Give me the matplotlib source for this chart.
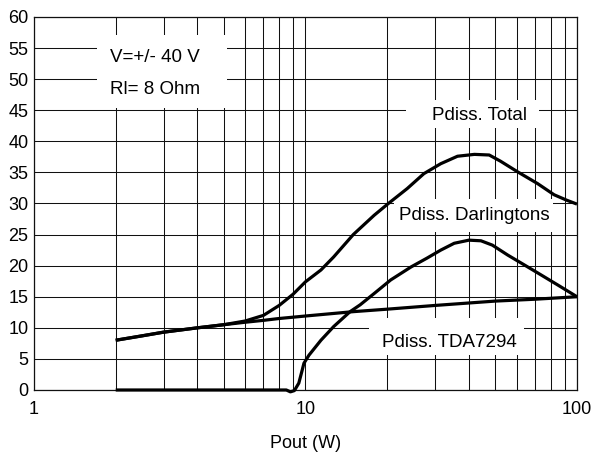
import matplotlib
matplotlib.use("Agg")
import matplotlib.pyplot as plt
from matplotlib.patches import Rectangle
from matplotlib.ticker import FixedLocator, NullFormatter

plt.rcParams['font.family'] = ['Liberation Sans', 'DejaVu Sans']

# ---- data ----
tda_x = [2, 2.5, 3, 4, 5, 6, 7, 8, 10, 15, 20, 30, 50, 70, 100]
tda_y = [8.0, 8.7, 9.3, 10.0, 10.5, 10.9, 11.2, 11.5, 11.9, 12.6, 13.0, 13.6, 14.3, 14.6, 15.0]

total_x = [2, 3, 4, 5, 6, 7, 8, 9, 10, 11.4, 12.7, 15, 17.9, 20.2, 23.7, 27.3,
           31.5, 36.3, 41.9, 47.5, 52.3, 60.4, 71.6, 82.4, 92, 100]
total_y = [8.0, 9.3, 10.0, 10.5, 11.1, 12.0, 13.6, 15.4, 17.4, 19.3, 21.4, 25.0, 28.1,
           30.0, 32.4, 34.8, 36.4, 37.6, 37.9, 37.8, 36.8, 35.1, 33.2, 31.4, 30.5, 29.9]

darl_x = [2, 8.5, 8.8, 9.1, 9.45, 9.7, 9.87, 10.3, 11.4, 12.7, 14.6, 15.9, 18, 20.6,
          24.5, 28, 31.5, 35.3, 40, 44.3, 48.8, 55.6, 64.1, 73.8, 84.9, 100]
darl_y = [0, 0, -0.3, -0.1, 1.1, 3.0, 4.3, 5.6, 8.0, 10.2, 12.6, 13.7, 15.6, 17.7,
          19.8, 21.2, 22.5, 23.6, 24.1, 24.0, 23.3, 21.7, 20.1, 18.5, 16.9, 15.0]

x_major = [1, 10, 100]
x_major_labels = ['1', '10', '100']
x_minor = [2, 3, 4, 5, 6, 7, 8, 9, 20, 30, 40, 50, 60, 70, 80, 90]
y_ticks = list(range(0, 61, 5))

xlabel = 'Pout (W)'
cond_lines = ['V=+/- 40 V', 'Rl= 8 Ohm']
label_total = 'Pdiss. Total'
label_darl = 'Pdiss. Darlingtons'
label_tda = 'Pdiss. TDA7294'

# ---- figure ----
fig = plt.figure(figsize=(5.95, 4.53), dpi=100)
ax = fig.add_axes([0.0571, 0.1391, 0.9126, 0.8234])
ax.set_xscale('log')
ax.set_xlim(1, 100)
ax.set_ylim(0, 60)

ax.xaxis.set_major_locator(FixedLocator(x_major))
ax.set_xticklabels(x_major_labels)
ax.xaxis.set_minor_locator(FixedLocator(x_minor))
ax.xaxis.set_minor_formatter(NullFormatter())
ax.set_yticks(y_ticks)

grid_kw = dict(color='#111111', linewidth=0.75)
ax.grid(True, which='major', axis='both', **grid_kw)
ax.grid(True, which='minor', axis='x', **grid_kw)
ax.set_axisbelow(True)
for s in ax.spines.values():
    s.set_linewidth(0.9)
    s.set_color('#111111')

ax.tick_params(axis='both', which='both', length=0, labelsize=13)
ax.tick_params(axis='x', pad=8)
ax.tick_params(axis='y', pad=4)
ax.set_xlabel(xlabel, fontsize=13, labelpad=12)

# white label boxes (layout, in data coordinates)
boxes = [
    (1.708, 45.3, 5.155, 57.1),
    (23.4, 42.1, 72.4, 46.6),
    (21.1, 25.4, 81.5, 30.7),
    (17.08, 5.63, 63.7, 11.58),
]
for x0, y0, x1, y1 in boxes:
    ax.add_patch(Rectangle((x0, y0), x1 - x0, y1 - y0, facecolor='white',
                           edgecolor='none', zorder=1.5))

lw = 2.3
ax.plot(tda_x, tda_y, color='black', lw=lw, zorder=3, clip_on=False,
        solid_capstyle='butt')
ax.plot(total_x, total_y, color='black', lw=lw, zorder=3, clip_on=False,
        solid_capstyle='butt', solid_joinstyle='round')
ax.plot(darl_x, darl_y, color='black', lw=lw, zorder=3, clip_on=False,
        solid_capstyle='butt', solid_joinstyle='round')

tk = dict(fontsize=13.5, color='black', zorder=4)
ax.text(1.907, 53.5, cond_lines[0], ha='left', va='center', **tk)
ax.text(1.907, 48.3, cond_lines[1], ha='left', va='center', **tk)
ax.text(43.9, 44.2, label_total, ha='center', va='center', **tk)
ax.text(42.0, 28.0, label_darl, ha='center', va='center', **tk)
ax.text(34.0, 7.7, label_tda, ha='center', va='center', **tk)

fig.savefig('out.png', dpi=100)
